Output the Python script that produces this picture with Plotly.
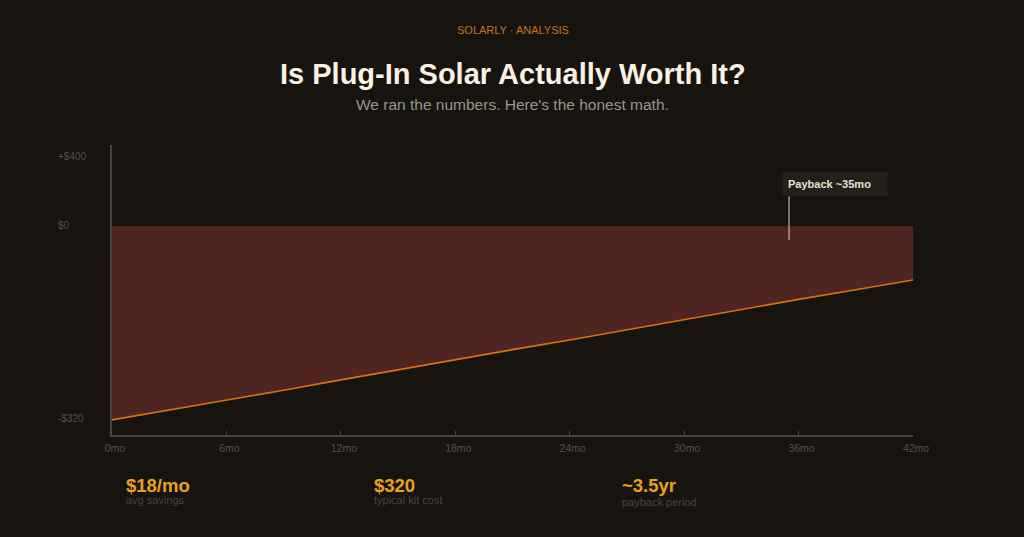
import plotly.graph_objects as go

# -----------------------------
# DATA
# -----------------------------
months = [0, 3, 6, 9, 12, 15, 18, 21, 24, 27, 30, 33, 36, 39, 42]
net_position = [-320, -304, -287, -271, -254, -237, -220, -204, -188, -171,
                -155, -138, -121, -105, -89]

x_tick_vals = [0, 6, 12, 18, 24, 30, 36, 42]
x_tick_text = ["0mo", "6mo", "12mo", "18mo", "24mo", "30mo", "36mo", "42mo"]

y_tick_text = ["+$400", "$0", "-$320"]
y_tick_at = [114, 0, -320]

payback_month = 35.5
payback_label = "Payback ~35mo"

stat_values = ["$18/mo", "$320", "~3.5yr"]
stat_labels = ["avg savings", "typical kit cost", "payback period"]

# -----------------------------
# COLOURS
# -----------------------------
BG = "#17140f"
AXIS = "#4a4540"
TICK_TXT = "#56504a"
LINE = "#d9730f"
FILL = "#502420"
GOLD = "#e8a21e"
FONT = "Liberation Sans, Arial, sans-serif"

# plot area in pixels: x 112..913, y 145..435
def py(pix):
    return (435 - pix) / 290

def px(pix):
    return (pix - 112) / 801

fig = go.Figure()

fig.add_trace(go.Scatter(
    x=months,
    y=net_position,
    mode="lines",
    line=dict(color=LINE, width=1.6),
    fill="tozeroy",
    fillcolor=FILL,
    hoverinfo="skip",
    showlegend=False,
))

# -----------------------------
# PAYBACK MARKER
# -----------------------------
fig.add_shape(type="line", xref="x", yref="y",
              x0=payback_month, x1=payback_month, y0=-23, y1=49,
              line=dict(color="#d8d2ca", width=1))

fig.add_annotation(
    x=payback_month, y=69, xref="x", yref="y",
    xanchor="left", yanchor="middle", xshift=-7,
    text="<b>" + payback_label + "</b>", align="left",
    width=94, height=12,
    showarrow=False,
    font=dict(family=FONT, size=11, color="#e8e0d5"),
    bgcolor="#251f19", borderpad=5,
)

# y tick labels (left aligned like the original)
for txt, val in zip(y_tick_text, y_tick_at):
    fig.add_annotation(
        x=px(56), y=val, xref="paper", yref="y",
        xanchor="left", yanchor="middle", yshift=1,
        text=txt, showarrow=False,
        font=dict(family=FONT, size=10, color=TICK_TXT),
    )

# -----------------------------
# HEADINGS
# -----------------------------
fig.add_annotation(x=0.5, y=py(30), xref="paper", yref="paper", yanchor="middle",
                   text="SOLARLY · ANALYSIS", showarrow=False,
                   font=dict(family=FONT, size=11, color="#c8701a"))
fig.add_annotation(x=0.5, y=py(74), xref="paper", yref="paper", yanchor="middle",
                   text="<b>Is Plug-In Solar Actually Worth It?</b>", showarrow=False,
                   font=dict(family=FONT, size=29, color="#fbf1e2"))
fig.add_annotation(x=0.5, y=py(104), xref="paper", yref="paper", yanchor="middle",
                   text="We ran the numbers. Here's the honest math.", showarrow=False,
                   font=dict(family=FONT, size=15.5, color="#9a948a"))

# -----------------------------
# STAT ROW
# -----------------------------
stat_x = [124, 372, 620]
stat_lab_y = [500, 500, 502]
for sx, ly, val, lab in zip(stat_x, stat_lab_y, stat_values, stat_labels):
    fig.add_annotation(x=px(sx), y=py(485.5), xref="paper", yref="paper",
                       xanchor="left", yanchor="middle", text="<b>" + val + "</b>",
                       showarrow=False, font=dict(family=FONT, size=18.5, color=GOLD))
    fig.add_annotation(x=px(sx), y=py(ly), xref="paper", yref="paper",
                       xanchor="left", yanchor="middle", text=lab,
                       showarrow=False, font=dict(family=FONT, size=11, color=AXIS))

fig.update_layout(
    width=1024, height=537,
    paper_bgcolor=BG, plot_bgcolor=BG,
    margin=dict(l=112, r=111, t=145, b=102),
    font=dict(family=FONT),
    xaxis=dict(
        range=[0, 42], tickvals=x_tick_vals, ticktext=x_tick_text,
        showgrid=False, zeroline=False,
        showline=True, linecolor=AXIS, linewidth=2,
        ticks="inside", ticklen=4, tickcolor=AXIS, tickwidth=1,
        ticklabelshift=3, ticklabelstandoff=2,
        tickfont=dict(family=FONT, size=10.5, color=TICK_TXT),
        fixedrange=True,
    ),
    yaxis=dict(
        range=[-345, 134], showgrid=False, zeroline=False,
        showticklabels=False, ticks="",
        showline=True, linecolor=AXIS, linewidth=2,
        layer="below traces", fixedrange=True,
    ),
)

fig.write_html(
    "out.html",
    config={"displayModeBar": False},
    post_script="document.body.style.margin='0';document.body.style.background='#17140f';",
)
